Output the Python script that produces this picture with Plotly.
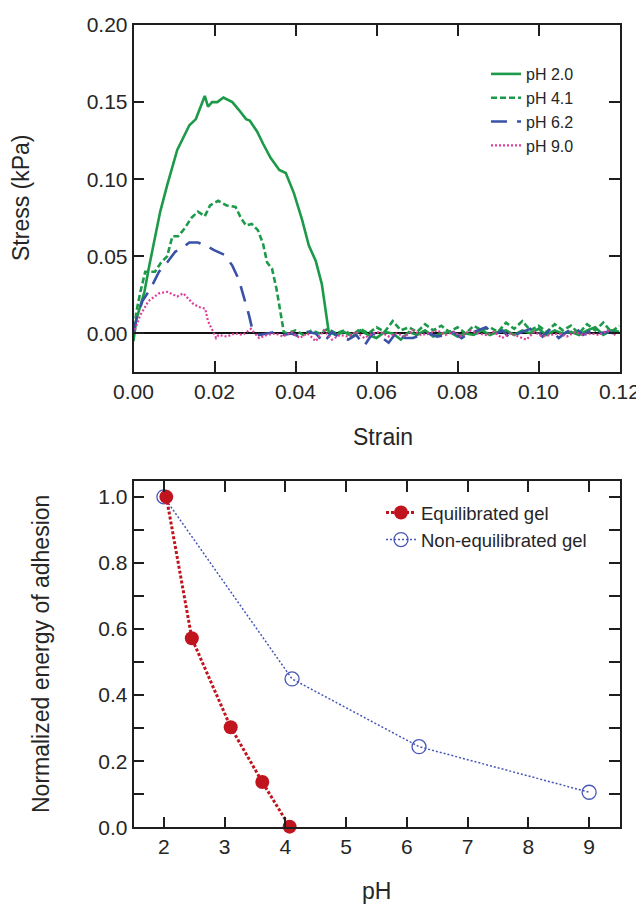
import plotly.graph_objects as go

# ---------------- Top panel data: stress vs strain ----------------
strain_ph20 = [0.0000, 0.0007, 0.0017, 0.0027, 0.0039, 0.0053, 0.0066, 0.0083, 0.0108, 0.0138,
               0.0154, 0.0176, 0.0184, 0.0194, 0.0207, 0.0222, 0.0244, 0.0260, 0.0278, 0.0287,
               0.0305, 0.0320, 0.0338, 0.0360, 0.0376, 0.0396, 0.0416, 0.0433, 0.0450, 0.0465,
               0.0482,
               0.050, 0.052, 0.054, 0.056, 0.058, 0.060, 0.062, 0.064, 0.066, 0.068,
               0.070, 0.072, 0.074, 0.076, 0.078, 0.080, 0.082, 0.084, 0.086, 0.088,
               0.090, 0.092, 0.094, 0.096, 0.098, 0.100, 0.102, 0.104, 0.106, 0.108,
               0.110, 0.112, 0.114, 0.116, 0.118, 0.120]
stress_ph20 = [-0.005, 0.009, 0.018, 0.027, 0.044, 0.061, 0.079, 0.096, 0.119, 0.135,
               0.139, 0.154, 0.147, 0.150, 0.150, 0.153, 0.150, 0.145, 0.139, 0.138,
               0.131, 0.123, 0.114, 0.106, 0.104, 0.091, 0.074, 0.057, 0.047, 0.032,
               0.001,
               -0.001, 0.001, -0.002, 0.002, -0.001, -0.003, 0.001, 0.000, -0.004, 0.001,
               -0.001, 0.002, -0.002, 0.000, 0.001, -0.002, 0.000, -0.001, 0.002, -0.001,
               0.001, 0.002, -0.001, 0.002, 0.000, 0.003, -0.001, 0.002, 0.000, 0.001,
               -0.001, 0.002, 0.004, -0.001, 0.002, 0.001]

strain_ph41 = [0.0000, 0.0007, 0.0017, 0.0029, 0.0037, 0.0053, 0.0068, 0.0083, 0.0096, 0.0110,
               0.0126, 0.0143, 0.0159, 0.0176, 0.0189, 0.0209, 0.0230, 0.0252, 0.0265, 0.0278,
               0.0292, 0.0307, 0.0320, 0.0330, 0.0342, 0.0353, 0.0364, 0.0371,
               0.038, 0.040, 0.042, 0.044, 0.046, 0.048, 0.050, 0.052, 0.054, 0.056,
               0.058, 0.060, 0.062, 0.064, 0.066, 0.068, 0.070, 0.072, 0.074, 0.076,
               0.078, 0.080, 0.082, 0.084, 0.086, 0.088, 0.090, 0.092, 0.094, 0.096,
               0.098, 0.100, 0.102, 0.104, 0.106, 0.108, 0.110, 0.112, 0.114, 0.116,
               0.118, 0.120]
stress_ph41 = [-0.002, 0.014, 0.027, 0.040, 0.040, 0.040, 0.046, 0.050, 0.063, 0.063,
               0.068, 0.075, 0.079, 0.076, 0.083, 0.086, 0.083, 0.082, 0.075, 0.070,
               0.071, 0.067, 0.058, 0.046, 0.042, 0.029, 0.012, 0.001,
               0.000, 0.002, -0.001, 0.002, 0.000, 0.003, 0.000, 0.002, -0.001, 0.003,
               0.000, 0.004, 0.001, 0.008, 0.002, 0.004, 0.001, 0.006, 0.002, 0.005,
               0.001, 0.004, 0.000, 0.005, 0.002, 0.004, 0.001, 0.007, 0.003, 0.008,
               0.002, 0.005, 0.001, 0.006, 0.002, 0.005, 0.000, 0.006, 0.002, 0.007,
               0.001, 0.005]

strain_ph62 = [0.0000, 0.0007, 0.0022, 0.0042, 0.0063, 0.0083, 0.0103, 0.0123, 0.0138, 0.0159,
               0.0179, 0.0199, 0.0224, 0.0244, 0.0260, 0.0275, 0.0285, 0.0293,
               0.031, 0.033, 0.035, 0.037, 0.039, 0.041, 0.043, 0.045, 0.047, 0.049,
               0.051, 0.053, 0.055, 0.057, 0.059, 0.061, 0.063, 0.065, 0.067, 0.069,
               0.071, 0.073, 0.075, 0.077, 0.079, 0.081, 0.083, 0.085, 0.087, 0.089,
               0.091, 0.093, 0.095, 0.097, 0.099, 0.101, 0.103, 0.105, 0.107, 0.109,
               0.111, 0.113, 0.115, 0.117, 0.119]
stress_ph62 = [0.001, 0.009, 0.021, 0.029, 0.040, 0.046, 0.053, 0.056, 0.059, 0.059,
               0.057, 0.054, 0.051, 0.044, 0.035, 0.022, 0.012, 0.003,
               -0.001, 0.000, 0.001, -0.001, 0.000, -0.002, 0.001, 0.000, -0.006, 0.001,
               -0.003, -0.004, -0.001, -0.008, 0.000, -0.002, -0.006, 0.001, -0.003, -0.003,
               -0.001, 0.000, -0.002, -0.001, 0.001, -0.003, 0.000, 0.002, 0.004, -0.001,
               0.002, -0.003, 0.000, 0.002, 0.004, -0.002, 0.003, -0.003, 0.001, 0.004,
               -0.001, 0.002, 0.000, 0.001, 0.000]

strain_ph90 = [0.0000, 0.0017, 0.0037, 0.0063, 0.0083, 0.0098, 0.0108, 0.0123, 0.0136, 0.0148,
               0.0164, 0.0177, 0.0184, 0.0194, 0.0204,
               0.021, 0.023, 0.025, 0.027, 0.029, 0.031, 0.033, 0.035, 0.037, 0.039,
               0.041, 0.043, 0.045, 0.047, 0.049, 0.051, 0.053, 0.055, 0.057, 0.059,
               0.061, 0.063, 0.065, 0.067, 0.069, 0.071, 0.073, 0.075, 0.077, 0.079,
               0.081, 0.083, 0.085, 0.087, 0.089, 0.091, 0.093, 0.095, 0.097, 0.099,
               0.101, 0.103, 0.105, 0.107, 0.109, 0.111, 0.113, 0.115, 0.117, 0.119]
stress_ph90 = [0.000, 0.012, 0.021, 0.026, 0.027, 0.025, 0.024, 0.026, 0.022, 0.019,
               0.017, 0.016, 0.008, 0.003, -0.003,
               -0.001, -0.002, 0.000, -0.001, 0.003, -0.003, -0.001, 0.000, -0.002, 0.001,
               -0.003, 0.000, -0.005, 0.002, -0.004, -0.001, -0.002, 0.001, -0.003, 0.000,
               0.001, -0.002, 0.000, -0.002, 0.002, -0.001, 0.000, 0.002, -0.001, 0.001,
               -0.002, 0.002, 0.000, -0.001, 0.001, -0.003, 0.000, -0.002, -0.004, 0.001,
               -0.002, -0.001, 0.000, -0.002, 0.001, -0.001, 0.000, -0.001, 0.002, -0.001]

strain_ticks = [0.00, 0.02, 0.04, 0.06, 0.08, 0.10, 0.12]
stress_ticks = [0.00, 0.05, 0.10, 0.15, 0.20]

# ---------------- Bottom panel data: normalized adhesion energy vs pH ----------------
ph_equil = [2.04, 2.46, 3.10, 3.62, 4.07]
energy_equil = [1.000, 0.572, 0.303, 0.137, 0.002]
ph_nonequil = [2.00, 4.11, 6.20, 9.00]
energy_nonequil = [1.000, 0.449, 0.244, 0.106]
ph_ticks = [2, 3, 4, 5, 6, 7, 8, 9]

# ---------------- Styling ----------------
FONT = "Liberation Sans, Arial, sans-serif"
TXT = "#262626"
AX = "#1e1e1e"
GREEN = "#1c9a4a"
BLUE = "#3a52a6"
PINK = "#dd3f98"
RED = "#c0151f"
BLUE2 = "#4757b8"

W, H = 644, 905
OFF = 8  # page body margin offset

def px_x(p):
    return (p - OFF) / W

def px_y(p):
    return 1 - (p - OFF) / H

fig = go.Figure()

fig.add_trace(go.Scatter(x=strain_ph20, y=stress_ph20, mode="lines", name="pH 2.0",
                         line=dict(color=GREEN, width=2.6), legend="legend"))
fig.add_trace(go.Scatter(x=strain_ph41, y=stress_ph41, mode="lines", name="pH 4.1",
                         line=dict(color=GREEN, width=2.6, dash="6px,3px"), legend="legend"))
fig.add_trace(go.Scatter(x=strain_ph62, y=stress_ph62, mode="lines", name="pH 6.2",
                         line=dict(color=BLUE, width=2.6, dash="16px,10px"), legend="legend"))
fig.add_trace(go.Scatter(x=strain_ph90, y=stress_ph90, mode="lines", name="pH 9.0",
                         line=dict(color=PINK, width=2.2, dash="2px,2px"), legend="legend"))

fig.add_trace(go.Scatter(x=ph_nonequil, y=energy_nonequil, mode="lines+markers",
                         name="Non-equilibrated gel", xaxis="x2", yaxis="y2",
                         line=dict(color=BLUE2, width=1.5, dash="2px,2px"),
                         marker=dict(symbol="circle-open", size=14, color=BLUE2, line=dict(width=1.3)),
                         cliponaxis=False, legend="legend2", legendrank=2))
fig.add_trace(go.Scatter(x=ph_equil, y=energy_equil, mode="lines+markers",
                         name="Equilibrated gel", xaxis="x2", yaxis="y2",
                         line=dict(color=RED, width=3, dash="3px,2px"),
                         marker=dict(symbol="circle", size=14, color=RED),
                         cliponaxis=False, legend="legend2", legendrank=1))

xdom = [px_x(133.5), px_x(619.5)]
axis_common = dict(showline=True, linecolor=AX, linewidth=1.6, mirror="ticks",
                   ticks="inside", ticklen=11, tickwidth=1.6, tickcolor=AX,
                   showgrid=False, zeroline=False, automargin=False,
                   tickfont=dict(family=FONT, size=21, color=TXT))

fig.update_layout(
    width=W, height=H,
    margin=dict(l=0, r=0, t=0, b=0, autoexpand=False),
    paper_bgcolor="white", plot_bgcolor="white",
    font=dict(family=FONT, color=TXT),
    xaxis=dict(domain=xdom, range=[0, 0.12], tickvals=strain_ticks, tickformat=".2f",
               anchor="y", **axis_common),
    yaxis=dict(domain=[px_y(372), px_y(25)], range=[-0.025, 0.20], tickvals=stress_ticks,
               tickformat=".2f", anchor="x", **{**axis_common, "zeroline": True},
               zerolinecolor="#111111", zerolinewidth=1.8),
    xaxis2=dict(domain=xdom, range=[1.5, 9.5], tickvals=ph_ticks, anchor="y2", **axis_common),
    yaxis2=dict(domain=[px_y(827.3), px_y(481)], range=[0, 1.048], dtick=0.2, tick0=0,
                tickformat=".1f", anchor="x2",
                minor=dict(dtick=0.1, tick0=0, ticks="inside", ticklen=11, tickwidth=1.6,
                           tickcolor=AX, showgrid=False),
                **axis_common),
    legend=dict(x=px_x(486), y=px_y(57), xanchor="left", yanchor="top",
                bgcolor="rgba(0,0,0,0)", font=dict(family=FONT, size=16, color=TXT),
                tracegroupgap=0, itemwidth=30),
    legend2=dict(x=px_x(381), y=px_y(494), xanchor="left", yanchor="top",
                 bgcolor="rgba(0,0,0,0)", font=dict(family=FONT, size=18.5, color=TXT),
                 tracegroupgap=0, itemwidth=30),
    annotations=[
        dict(text="Stress (kPa)", x=px_x(21), y=px_y(198), xref="paper", yref="paper",
             textangle=-90, showarrow=False, xanchor="center", yanchor="middle",
             font=dict(family=FONT, size=23, color=TXT)),
        dict(text="Strain", x=px_x(383), y=px_y(437), xref="paper", yref="paper",
             showarrow=False, xanchor="center", yanchor="middle",
             font=dict(family=FONT, size=23, color=TXT)),
        dict(text="Normalized energy of adhesion", x=px_x(41), y=px_y(654), xref="paper",
             yref="paper", textangle=-90, showarrow=False, xanchor="center", yanchor="middle",
             font=dict(family=FONT, size=23, color=TXT)),
        dict(text="pH", x=px_x(376), y=px_y(891), xref="paper", yref="paper",
             showarrow=False, xanchor="center", yanchor="middle",
             font=dict(family=FONT, size=23, color=TXT)),
    ],
)

fig.write_html("out.html")
